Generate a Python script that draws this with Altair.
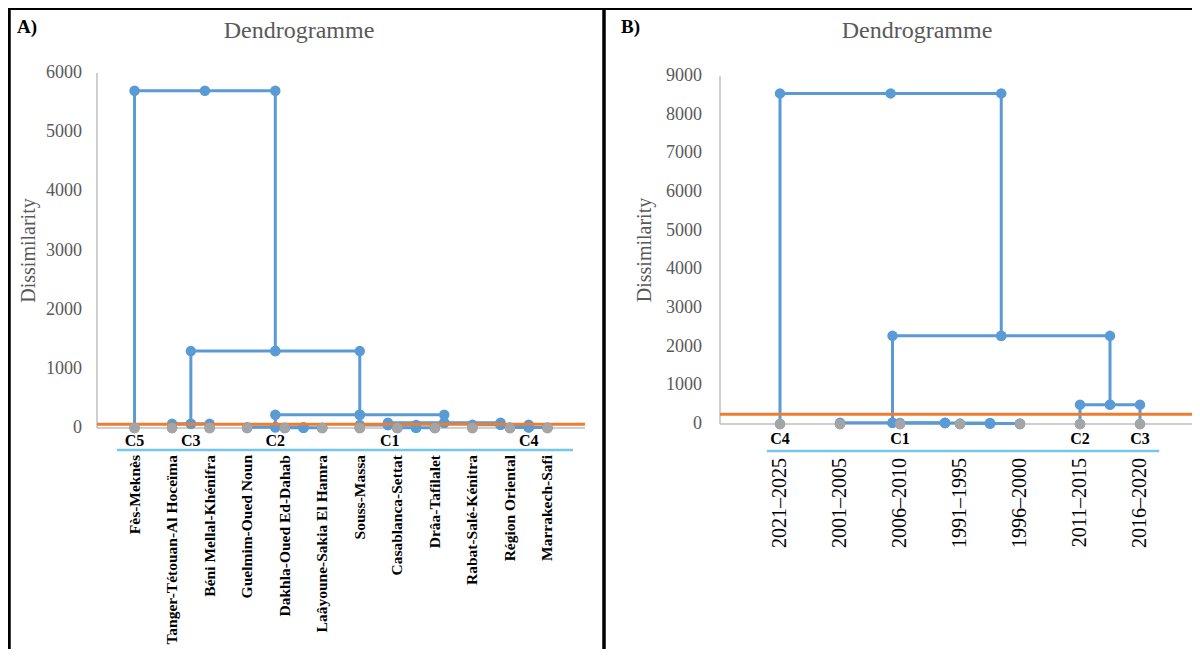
import altair as alt
import pandas as pd

# ---------------- data ----------------
# Panel A : regions (leaf order of the dendrogram)
regions = ["Fès-Meknès", "Tanger-Tétouan-Al Hoceïma", "Béni Mellal-Khénifra",
           "Guelmim-Oued Noun", "Dakhla-Oued Ed-Dahab", "Laâyoune-Sakia El Hamra",
           "Souss-Massa", "Casablanca-Settat", "Drâa-Tafilalet",
           "Rabat-Salé-Kénitra", "Région Oriental", "Marrakech-Safi"]
# merges: children (index < n = leaf, >= n = earlier merge n+k) and dissimilarity
a_left = [4, 7, 10, 3, 6, 9, 1, 16, 15, 18, 0]
a_right = [5, 8, 11, 12, 13, 14, 2, 17, 19, 20, 21]
a_height = [5, 5, 10, 12, 50, 55, 70, 90, 225, 1300, 5700]
a_cut = 65
a_clusters = ["C5", "C3", "C2", "C1", "C4"]
a_cluster_pos = [1, 2.5, 4.75, 7.8, 11.5]
a_yticks = [0, 1000, 2000, 3000, 4000, 5000, 6000]

# Panel B : periods
periods = ["2021–2025", "2001–2005", "2006–2010", "1991–1995",
           "1996–2000", "2011–2015", "2016–2020"]
b_left = [3, 2, 1, 5, 9, 0]
b_right = [4, 7, 8, 6, 10, 11]
b_height = [10, 25, 30, 500, 2280, 8550]
b_cut = 250
b_clusters = ["C4", "C1", "C2", "C3"]
b_cluster_pos = [1, 3, 6, 7]
b_yticks = [0, 1000, 2000, 3000, 4000, 5000, 6000, 7000, 8000, 9000]

# ---------------- style ----------------
SERIF = "Liberation Serif"
BLUE = "#5B9BD5"
GRAY_DOT = "#A5A5A5"
ORANGE = "#ED7D31"
AXIS_GRAY = "#BFBFBF"
DECO = "#74C6EF"
TXT = "#595959"
W, H = 1184, 641


def layout(n, left, right, height):
    xs = [float(i + 1) for i in range(n)]
    hs = [0.0] * n
    rows = []
    for k, (l, r, h) in enumerate(zip(left, right, height)):
        xl, xr = xs[l], xs[r]
        xm = (xl + xr) / 2
        pts = [(xl, hs[l]), (xl, h), (xm, h), (xr, h), (xr, hs[r])]
        for j, (px, py) in enumerate(pts):
            rows.append({"merge": k, "order": j, "x": px, "y": py})
        xs.append(xm)
        hs.append(float(h))
    return pd.DataFrame(rows)


def panel(leaves, left, right, height, cut, clusters, cluster_pos, yticks,
          xmax, x_range, y_range, tick_x, title_x,
          leaf_size, leaf_weight, leaf_top, cluster_y, deco_x, deco_y):
    n = len(leaves)
    segs = layout(n, left, right, height)
    leaf_df = pd.DataFrame({"x": [i + 1 for i in range(n)], "y": [0] * n,
                            "label": leaves})
    xs = alt.Scale(domain=[0, xmax], range=x_range, nice=False, zero=False)
    ys = alt.Scale(domain=[yticks[0], yticks[-1]], range=y_range, nice=False)

    def X(f):
        return alt.X(f, type="quantitative", scale=xs, axis=None)

    def Y(f):
        return alt.Y(f, type="quantitative", scale=ys, axis=None)

    # axes drawn as marks through the scales
    base_df = pd.DataFrame({"x0": [0], "x1": [xmax], "y0": [0], "y1": [yticks[-1]]})
    x_axis_line = alt.Chart(base_df).mark_rule(color=AXIS_GRAY, strokeWidth=1.5).encode(
        x=X("x0"), x2="x1", y=Y("y0"))
    y_axis_line = alt.Chart(base_df).mark_rule(color=AXIS_GRAY, strokeWidth=1.5).encode(
        x=X("x0"), y=Y("y0"), y2="y1")
    tick_df = pd.DataFrame({"v": yticks, "t": [str(v) for v in yticks]})
    tick_text = alt.Chart(tick_df).mark_text(
        align="right", baseline="middle", font=SERIF, fontSize=18,
        color=TXT).encode(x=alt.value(tick_x), y=Y("v"), text="t:N")
    ytitle = alt.Chart(pd.DataFrame({"k": [0]})).mark_text(
        text="Dissimilarity", angle=270, align="center", baseline="middle",
        font=SERIF, fontSize=20, color=TXT).encode(
        x=alt.value(title_x), y=alt.value((y_range[0] + y_range[1]) / 2))

    lines = alt.Chart(segs).mark_line(color=BLUE, strokeWidth=3,
                                      strokeJoin="round").encode(
        x=X("x"), y=Y("y"), detail="merge:N", order="order:Q")
    dots = alt.Chart(segs).mark_circle(color=BLUE, size=110, opacity=1).encode(
        x=X("x"), y=Y("y"))

    cut_df = pd.DataFrame({"x0": [0], "x1": [xmax], "y": [cut]})
    cut_line = alt.Chart(cut_df).mark_rule(color=ORANGE, strokeWidth=3).encode(
        x=X("x0"), x2="x1", y=Y("y"))

    leaf_dots = alt.Chart(leaf_df).mark_circle(color=GRAY_DOT, size=110,
                                              opacity=1).encode(
        x=X("x"), y=Y("y"))

    leaf_text = alt.Chart(leaf_df).mark_text(
        angle=270, align="right", baseline="middle", font=SERIF,
        fontSize=leaf_size, fontWeight=leaf_weight, color="black").encode(
        x=X("x"), y=alt.value(leaf_top), text="label:N")

    cl_df = pd.DataFrame({"x": cluster_pos, "label": clusters})
    cl_text = alt.Chart(cl_df).mark_text(
        align="center", baseline="middle", font=SERIF, fontSize=16,
        fontWeight="bold", color="black").encode(
        x=X("x"), y=alt.value(cluster_y), text="label:N")

    deco_df = pd.DataFrame({"x0": [deco_x[0]], "x1": [deco_x[1]]})
    deco = alt.Chart(deco_df).mark_rule(color=DECO, strokeWidth=2.5).encode(
        x=X("x0"), x2="x1", y=alt.value(deco_y))

    return alt.layer(x_axis_line, y_axis_line, tick_text, ytitle, lines, dots,
                     cut_line, leaf_dots, leaf_text, cl_text, deco)


panel_a = panel(regions, a_left, a_right, a_height, a_cut, a_clusters,
                a_cluster_pos, a_yticks, xmax=13, x_range=[89, 577],
                y_range=[420, 65], tick_x=74, title_x=21,
                leaf_size=15.5, leaf_weight="bold", leaf_top=447, cluster_y=433,
                deco_x=[0.53, 12.68], deco_y=442)

panel_b = panel(periods, b_left, b_right, b_height, b_cut, b_clusters,
                b_cluster_pos, b_yticks, xmax=8, x_range=[712, 1192],
                y_range=[416, 68], tick_x=694, title_x=637,
                leaf_size=20, leaf_weight="normal", leaf_top=450, cluster_y=431,
                deco_x=[0.78, 7.32], deco_y=443)

one = pd.DataFrame({"k": [0]})
frame_top = alt.Chart(one).mark_rule(color="black", strokeWidth=4).encode(
    x=alt.value(0), x2=alt.value(W), y=alt.value(0))
frame_left = alt.Chart(one).mark_rule(color="black", strokeWidth=3.5).encode(
    x=alt.value(1), y=alt.value(0), y2=alt.value(H))
frame_mid = alt.Chart(one).mark_rule(color="black", strokeWidth=3.5).encode(
    x=alt.value(596), y=alt.value(0), y2=alt.value(H))

title_a = alt.Chart(one).mark_text(text="Dendrogramme", font=SERIF, fontSize=24,
                                   color=TXT, align="center",
                                   baseline="alphabetic").encode(
    x=alt.value(291), y=alt.value(30))
title_b = alt.Chart(one).mark_text(text="Dendrogramme", font=SERIF, fontSize=24,
                                   color=TXT, align="center",
                                   baseline="alphabetic").encode(
    x=alt.value(909), y=alt.value(30))
tag_a = alt.Chart(one).mark_text(text="A)", font=SERIF, fontSize=19,
                                 fontWeight="bold", color="black", align="left",
                                 baseline="alphabetic").encode(
    x=alt.value(9), y=alt.value(25))
tag_b = alt.Chart(one).mark_text(text="B)", font=SERIF, fontSize=19,
                                 fontWeight="bold", color="black", align="left",
                                 baseline="alphabetic").encode(
    x=alt.value(613), y=alt.value(25))

chart = alt.layer(
    panel_a, panel_b, frame_top, frame_left, frame_mid,
    title_a, title_b, tag_a, tag_b
).resolve_scale(x="independent", y="independent").properties(
    width=W, height=H, padding=0,
    autosize=alt.AutoSizeParams(type="none"),
    background="white"
).configure_view(stroke=None)

chart.save("out.html", embed_options={"renderer": "svg", "actions": False})
